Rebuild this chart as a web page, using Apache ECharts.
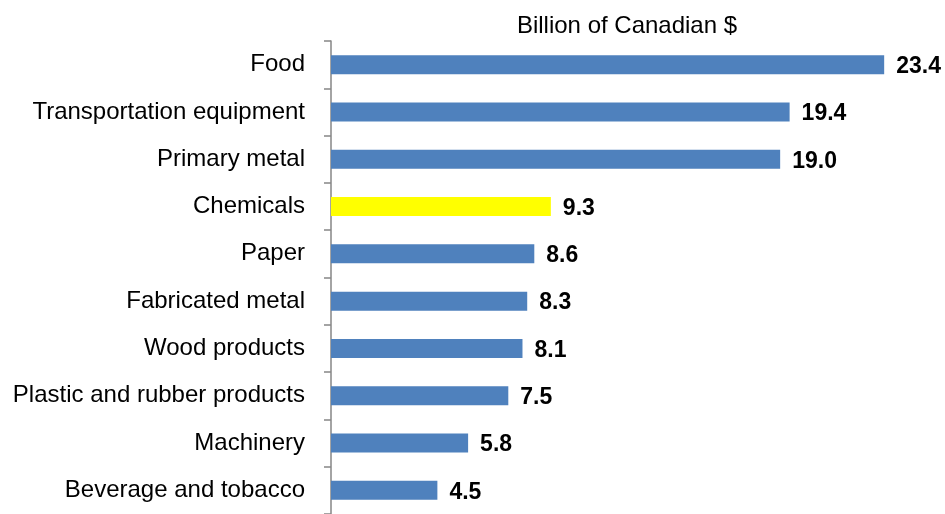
<!DOCTYPE html>
<html>
<head>
<meta charset="utf-8">
<title>Billion of Canadian $</title>
<style>
    * { margin: 0; padding: 0; }
    #main { width: 945px; height: 514px; background: #fff; }
</style>
</head>
<body>
<div id="main"></div>
<script src="https://cdn.jsdelivr.net/npm/echarts@6/dist/echarts.min.js"></script>
<script>
    var categories = ['Food', 'Transportation equipment', 'Primary metal', 'Chemicals', 'Paper',
        'Fabricated metal', 'Wood products', 'Plastic and rubber products', 'Machinery', 'Beverage and tobacco'];
    var values = [23.4, 19.4, 19.0, 9.3, 8.6, 8.3, 8.1, 7.5, 5.8, 4.5];
    var highlighted = 'Chemicals';

    var chart = echarts.init(document.getElementById('main'));
    var font = 'Liberation Sans';
    chart.setOption({
        animation: false,
        title: {
            text: 'Billion of Canadian $',
            left: 622,
            top: 9,
            textAlign: 'center',
            textStyle: { fontFamily: font, fontSize: 24, fontWeight: 'normal', color: '#000' }
        },
        grid: { left: 331, top: 41, height: 476, right: 23 },
        xAxis: { type: 'value', min: 0, max: 25, show: false },
        yAxis: {
            type: 'category',
            data: categories,
            inverse: true,
            axisLine: { show: true, lineStyle: { color: '#868686', width: 1.5 } },
            axisTick: { show: true, length: 7, lineStyle: { color: '#868686', width: 1.5 } },
            axisLabel: { margin: 26, fontFamily: font, fontSize: 24, color: '#000' }
        },
        series: [{
            type: 'bar',
            data: values,
            barWidth: 19,
            itemStyle: {
                color: function (p) {
                    return categories[p.dataIndex] === highlighted ? '#ffff00' : '#4f81bd';
                }
            },
            label: {
                show: true,
                position: 'right',
                distance: 12,
                offset: [0, 2],
                fontFamily: font,
                fontSize: 23,
                fontWeight: 'bold',
                color: '#000',
                formatter: function (p) { return p.value.toFixed(1); }
            }
        }]
    });
</script>
</body>
</html>
